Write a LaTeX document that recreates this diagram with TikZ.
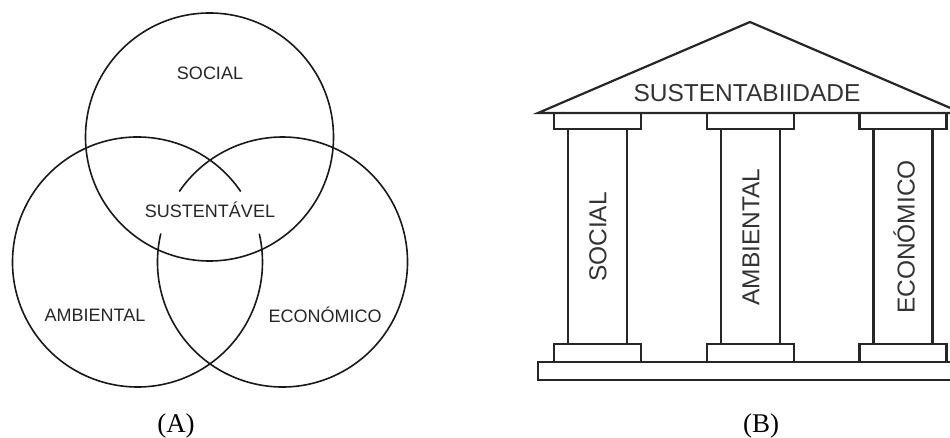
\documentclass[tikz,border=0pt]{standalone}
\usepackage{fontspec}
\setmainfont{Liberation Serif}
\newfontfamily\labelfont{Liberation Sans}
\begin{document}
\begin{tikzpicture}[x=1pt,y=1pt,
  venn/.style={line width=1.6pt,draw=black!90},
  temple/.style={line width=2.2pt,draw=black!85,line join=miter},
  vennlabel/.style={font=\labelfont\fontsize{18}{20}\selectfont,text=black!85,inner sep=0pt},
  templelabel/.style={font=\labelfont\fontsize{24.5}{26}\selectfont,text=black!80,inner sep=0pt},
  caption/.style={font=\fontsize{27}{29}\selectfont,anchor=base,inner sep=0pt}]
\useasboundingbox (0,0) rectangle (950,438);
\clip (0,0) rectangle (950,438);

% ---------- (A) three-circle diagram ----------
\draw[venn] (209.5,301) circle[radius=124];
% left and right circles leave a gap around the central label
\draw[venn] (137.5,176) ++(34.3:125) arc[start angle=34.3,end angle=373.1,radius=125];
\draw[venn] (282.5,176) ++(166.8:125) arc[start angle=166.8,end angle=505.7,radius=125];

\node[vennlabel] (social) at (210,365) {SOCIAL};
\node[vennlabel] (sust) at (210,228) {SUSTENTÁVEL};
\node[vennlabel] (amb) at (95,123) {AMBIENTAL};
\node[vennlabel] (eco) at (325,123) {ECONÓMICO};
\node[caption] (capA) at (176,5) {(A)};

% ---------- (B) temple ----------
% roof
\draw[temple] (538,325) -- (750,416) -- (962,325) -- cycle;
% plinth
\draw[temple] (538,58) rectangle (962,76);
% three pillars: capital, shaft, base
\foreach \cx in {597.5,750.5,903} {
  \draw[temple] (\cx-43.5,309) rectangle (\cx+43.5,325);
  \draw[temple] (\cx-29.5,94) -- (\cx-29.5,309);
  \draw[temple] (\cx+29.5,94) -- (\cx+29.5,309);
  \draw[temple] (\cx-43.5,76) rectangle (\cx+43.5,94);
}

\node[templelabel] (roof) at (747,345) {SUSTENTABIIDADE};
\node[templelabel,rotate=90] (psoc) at (598,201) {SOCIAL};
\node[templelabel,rotate=90] (pamb) at (751,201) {AMBIENTAL};
\node[templelabel,rotate=90] (peco) at (904,201) {ECONÓMICO};
\node[caption] (capB) at (761,5) {(B)};
\end{tikzpicture}
\end{document}
